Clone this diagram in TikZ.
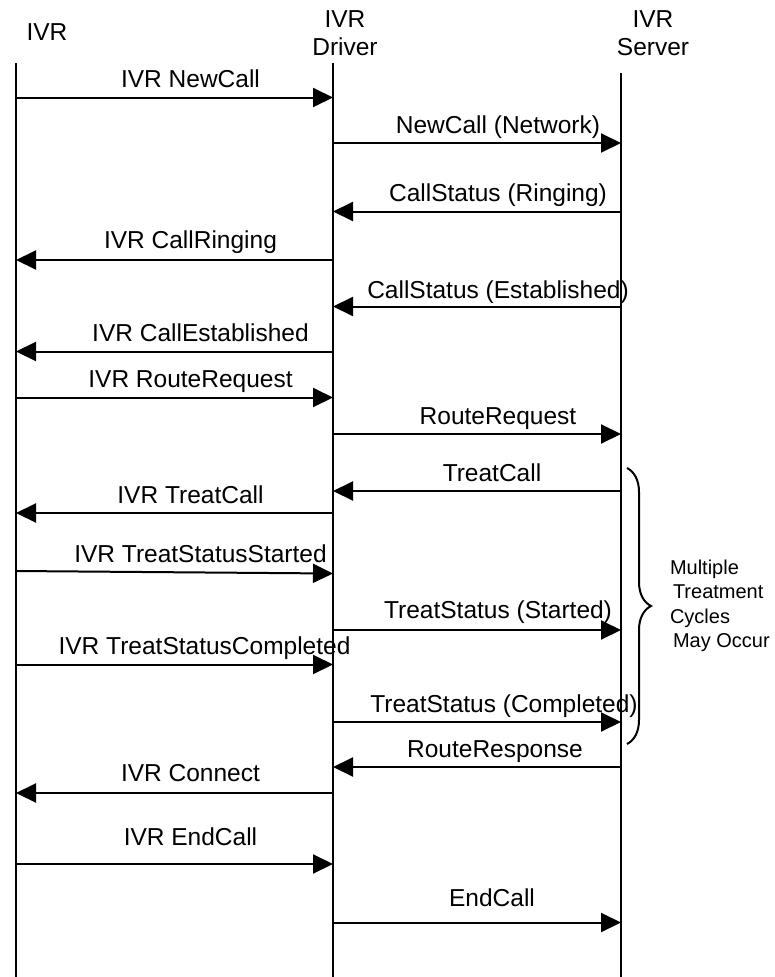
\documentclass[tikz,border=0pt]{standalone}
\usepackage{fontspec}
\setmainfont{Liberation Sans}
\usepackage{tikz}
\usetikzlibrary{arrows.meta,decorations.pathreplacing}

\tikzset{
  life/.style={line width=2.2pt},
  labl/.style={anchor=base, inner sep=0pt, yshift=10pt, xshift=16pt},
  labr/.style={anchor=base, inner sep=0pt, yshift=10pt, xshift=21pt},
  note/.style={font=\fontsize{20}{24.5}\selectfont, align=left, anchor=west, inner sep=0pt}
}

\begin{document}
\begin{tikzpicture}[x=1pt, y=-1pt, >={Triangle[length=20pt,width=19pt]},
  line width=2pt, font=\fontsize{24.5}{28}\selectfont]
\useasboundingbox (0,0) rectangle (774,977);
\node (ivrhead) at (47,32) {IVR};
\node[align=center] (drvhead) at (345,33) {IVR\\Driver};
\node[align=center] (srvhead) at (653,33) {IVR\\Server};
\coordinate (ivr) at (16,63);
\coordinate (drv) at (333,63);
\coordinate (srv) at (621,73);
\coordinate (ivrend) at (16,977);
\coordinate (drvend) at (333,977);
\coordinate (srvend) at (621,977);
\draw[life] (ivr) -- (ivrend);
\draw[life] (drv) -- (drvend);
\draw[life] (srv) -- (srvend);
% call setup
\draw[->] (ivr |- 0,97.5) to node[labl] {IVR NewCall} (drv |- 0,97.5);
\draw[->] (drv |- 0,143) to node[labr] {NewCall (Network)} (srv |- 0,143);
\draw[->] (srv |- 0,211.5) to node[labr] {CallStatus (Ringing)} (drv |- 0,211.5);
\draw[->] (drv |- 0,260) to node[labl, yshift=2pt] {IVR CallRinging} (ivr |- 0,260);
\draw[->] (srv |- 0,306.5) to node[labr, yshift=-2pt] {CallStatus (Established)} (drv |- 0,306.5);
\draw[->] (drv |- 0,351.5) to node[labl, xshift=10pt] {IVR CallEstablished} (ivr |- 0,351.5);
% routing
\draw[->] (ivr |- 0,397.5) to node[labl] {IVR RouteRequest} (drv |- 0,397.5);
\draw[->] (drv |- 0,434) to node[labr] {RouteRequest} (srv |- 0,434);
\draw[->] (srv |- 0,491) to node[labr, xshift=-6pt] {TreatCall} (drv |- 0,491);
\draw[->] (drv |- 0,513) to node[labl] {IVR TreatCall} (ivr |- 0,513);
\draw[->] (ivr |- 0,571) to node[labl, xshift=10pt] {IVR TreatStatusStarted} (drv |- 0,573.5);
\draw[->] (drv |- 0,630) to node[labr, yshift=2pt] {TreatStatus (Started)} (srv |- 0,630);
\draw[->] (ivr |- 0,664.5) to node[labl, xshift=14pt] {IVR TreatStatusCompleted} (drv |- 0,664.5);
\draw[->] (drv |- 0,722) to node[labr, xshift=6pt] {TreatStatus (Completed)} (srv |- 0,722);
\draw[->] (srv |- 0,767) to node[labr, xshift=-3pt] {RouteResponse} (drv |- 0,767);
\draw[->] (drv |- 0,793) to node[labl, yshift=2pt] {IVR Connect} (ivr |- 0,793);
% release
\draw[->] (ivr |- 0,864) to node[labl, yshift=9pt] {IVR EndCall} (drv |- 0,864);
\draw[->] (drv |- 0,922.5) to node[labr, yshift=6pt, xshift=-6pt] {EndCall} (srv |- 0,922.5);
% treatment loop
\coordinate (bracetop) at (627,468);
\coordinate (bracebot) at (627,744);
\draw[line width=2pt, decorate, decoration={brace, amplitude=24pt}] (bracetop) -- (bracebot);
\node[note] (cycles) at (669,606) {Multiple\\\hspace{3pt}Treatment\\Cycles\\\hspace{3pt}May Occur};
\end{tikzpicture}
\end{document}
